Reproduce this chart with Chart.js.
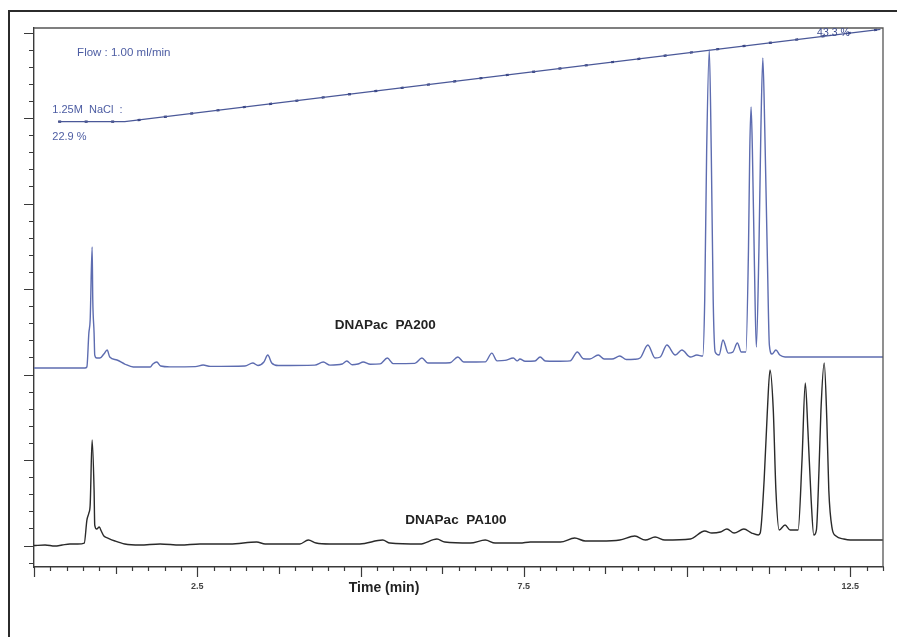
<!DOCTYPE html>
<html><head><meta charset="utf-8">
<script src="https://cdn.jsdelivr.net/npm/chart.js@4/dist/chart.umd.min.js"></script>
<style>
html,body{margin:0;padding:0;background:#fff;overflow:hidden;width:897px;height:637px;}
#frame{position:absolute;left:8px;top:10px;width:1000px;height:1000px;border-top:2px solid #2b2b2b;border-left:2px solid #2b2b2b;box-sizing:border-box;}
canvas{position:absolute;left:0;top:0;}
</style></head><body>
<div id="frame"></div>
<canvas id="c" width="897" height="637"></canvas>
<script>
// ---- data (time in min, signal in arbitrary units) ----
const pa200Time = [0.00,0.78,0.81,0.84,0.86,0.89,0.90,0.92,0.93,0.96,1.01,1.07,1.12,1.16,1.27,1.39,1.52,1.78,1.82,1.88,1.94,2.08,2.47,2.59,2.70,3.23,3.35,3.43,3.52,3.58,3.64,3.74,4.30,4.43,4.53,4.72,4.79,4.87,4.96,5.04,5.15,5.30,5.41,5.50,5.83,5.94,6.03,6.22,6.37,6.49,6.58,6.91,7.01,7.09,7.21,7.34,7.40,7.44,7.52,7.67,7.75,7.83,7.98,8.21,8.32,8.41,8.51,8.64,8.73,8.85,8.97,9.07,9.20,9.28,9.40,9.51,9.59,9.69,9.82,9.92,10.05,10.15,10.24,10.27,10.30,10.34,10.37,10.40,10.43,10.49,10.55,10.63,10.70,10.77,10.83,10.90,10.94,10.96,10.98,11.00,11.03,11.06,11.10,11.13,11.16,11.19,11.23,11.26,11.30,11.36,11.42,11.50,11.73,13.00];
const pa200Signal = [20.76,20.76,20.90,24.85,26.37,34.91,28.71,24.85,22.28,21.93,21.93,22.40,22.87,22.05,21.70,21.23,20.88,20.88,21.23,21.46,21.00,20.90,20.92,21.11,20.95,21.00,21.35,21.05,21.46,22.28,21.35,21.05,21.10,21.46,21.10,21.23,21.58,21.15,21.23,21.46,21.20,21.25,21.93,21.28,21.30,21.93,21.35,21.35,21.38,22.05,21.46,21.48,22.51,21.60,21.65,21.93,21.60,21.81,21.55,21.58,22.05,21.58,21.55,21.60,22.63,21.85,21.81,22.28,21.81,21.81,22.16,21.75,21.78,21.93,23.45,21.93,22.05,23.45,22.28,22.87,22.05,22.28,22.16,28.71,46.26,57.95,46.26,28.71,22.63,22.28,24.04,22.51,22.63,23.68,22.63,22.63,34.56,46.26,51.29,46.26,33.39,23.22,34.56,48.60,57.02,48.60,33.39,23.45,22.40,22.87,22.28,22.05,22.05,22.05];

const pa100Time = [0.00,0.17,0.32,0.43,0.55,0.67,0.77,0.81,0.84,0.86,0.89,0.92,0.93,0.96,1.00,1.03,1.07,1.13,1.24,1.39,1.62,1.93,2.24,2.54,3.00,3.41,3.54,4.07,4.20,4.32,4.53,4.99,5.34,5.45,5.91,6.17,6.29,6.68,6.91,7.06,7.44,7.60,7.83,8.06,8.28,8.44,8.67,8.97,9.20,9.36,9.51,9.66,10.05,10.27,10.38,10.51,10.61,10.72,10.87,10.99,11.09,11.12,11.18,11.23,11.27,11.32,11.36,11.41,11.50,11.58,11.70,11.76,11.81,11.85,11.90,11.94,11.98,12.02,12.05,12.10,12.14,12.17,12.22,12.28,12.40,12.50,13.00];
const pa100Signal = [0.00,0.06,-0.06,0.06,0.18,0.18,0.29,2.98,3.80,4.74,12.34,6.49,2.40,1.93,2.16,1.70,1.11,0.88,0.53,0.18,0.06,0.18,0.06,0.18,0.18,0.41,0.18,0.18,0.64,0.29,0.18,0.18,0.64,0.29,0.18,0.76,0.41,0.29,0.64,0.29,0.29,0.41,0.41,0.41,0.88,0.53,0.53,0.64,1.11,0.64,0.99,0.64,0.76,1.70,1.46,1.58,1.93,1.46,1.93,1.46,1.23,1.46,7.66,15.85,20.53,15.85,6.49,1.81,2.40,1.81,1.81,10.00,19.01,13.51,5.32,1.23,1.81,8.83,15.85,21.35,14.68,6.49,2.05,1.11,0.76,0.64,0.64];

const gradientTime = [0.37, 1.39, 12.96];
const gradientPercent = [22.9, 22.9, 43.3];

const xTickLabels = ['2.5', '7.5', '12.5'];
const xTickLabelValues = [2.5, 7.5, 12.5];

// ---- text notes (content + anchor in data units) ----
const notes = [
  {text:'Flow : 1.00 ml/min', t:0.66, v:57.6, align:'left', color:'#4d5da3', font:'11.5px "Liberation Sans", Arial, sans-serif'},
  {text:'1.25M  NaCl  :', t:0.28, v:50.9, align:'left', color:'#4d5da3', font:'11px "Liberation Sans", Arial, sans-serif'},
  {text:'22.9 %', t:0.28, v:47.8, align:'left', color:'#4d5da3', font:'11px "Liberation Sans", Arial, sans-serif'},
  {text:'43.3 %', t:11.99, v:59.9, align:'left', color:'#3d4c8f', font:'10.5px "Liberation Sans", Arial, sans-serif'},
  {text:'DNAPac  PA200', t:5.38, v:25.8, align:'center', color:'#222', font:'bold 13.5px "Liberation Sans", Arial, sans-serif'},
  {text:'DNAPac  PA100', t:6.46, v:3.0, align:'center', color:'#222', font:'bold 13.5px "Liberation Sans", Arial, sans-serif'}
];

const xy = (ts, vs) => ts.map((t, i) => ({x: t, y: vs[i]}));

const decor = {
  id: 'decor',
  afterDraw(chart) {
    const {ctx, chartArea: a, scales: {x, y}} = chart;
    ctx.save();
    ctx.strokeStyle = '#555';
    ctx.lineWidth = 1.3;
    ctx.beginPath();
    ctx.moveTo(a.left, a.top); ctx.lineTo(a.right, a.top); ctx.lineTo(a.right, a.bottom);
    ctx.stroke();
    ctx.strokeStyle = '#3a3a3a';
    ctx.lineWidth = 1.2;
    ctx.beginPath();
    x.ticks.forEach(tk => {
      const px = Math.round(x.getPixelForValue(tk.value)) + 0.5;
      const k = Math.round(tk.value * 100);
      const len = (k % 250 === 0) ? 10 : ((k % 125 === 0) ? 7 : 4);
      ctx.moveTo(px, a.bottom); ctx.lineTo(px, a.bottom + len);
    });
    y.ticks.forEach(tk => {
      const py = Math.round(y.getPixelForValue(tk.value)) + 0.5;
      const k = Math.round(tk.value);
      const len = (k % 10 === 0) ? 10 : 5;
      ctx.moveTo(a.left, py); ctx.lineTo(a.left - len, py);
    });
    ctx.stroke();
    ctx.fillStyle = '#444';
    ctx.font = 'bold 9px "Liberation Sans", Arial, sans-serif';
    ctx.textAlign = 'center';
    ctx.textBaseline = 'middle';
    xTickLabelValues.forEach((v, i) => {
      ctx.fillText(xTickLabels[i], x.getPixelForValue(v), a.bottom + 20);
    });
    ctx.fillStyle = '#222';
    ctx.font = 'bold 14px "Liberation Sans", Arial, sans-serif';
    ctx.fillText('Time (min)', x.getPixelForValue(5.36), a.bottom + 21);
    notes.forEach(n => {
      ctx.fillStyle = n.color;
      ctx.font = n.font;
      ctx.textAlign = n.align;
      ctx.fillText(n.text, x.getPixelForValue(n.t), y.getPixelForValue(n.v));
    });
    ctx.restore();
  }
};

const xTickValues = [];
for (let i = 0; i <= 52; i++) xTickValues.push(i * 0.25);
const yTickValues = [];
for (let v = -2; v <= 60; v += 2) yTickValues.push(v);

new Chart(document.getElementById('c'), {
  type: 'line',
  data: {
    datasets: [
      {label:'DNAPac PA200', data: xy(pa200Time, pa200Signal), borderColor:'#5d6cb0', borderWidth:1.4, pointRadius:0, cubicInterpolationMode:'monotone', yAxisID:'y'},
      {label:'DNAPac PA100', data: xy(pa100Time, pa100Signal), borderColor:'#2a2a2a', borderWidth:1.4, pointRadius:0, cubicInterpolationMode:'monotone', yAxisID:'y'},
      {label:'NaCl gradient', data: xy(gradientTime, gradientPercent), borderColor:'#4a5898', borderWidth:1.2, pointRadius:0, tension:0, yAxisID:'yGrad'},
      {label:'NaCl gradient marks', data: xy(gradientTime, gradientPercent), borderColor:'#27316e', borderWidth:2.2, borderDash:[3, 23.5], pointRadius:0, tension:0, yAxisID:'yGrad'}
    ]
  },
  options: {
    responsive: false,
    animation: false,
    events: [],
    layout: {padding: {left: 34, top: 28, right: 14, bottom: 70}},
    plugins: {legend: {display: false}, tooltip: {enabled: false}},
    scales: {
      x: {
        type: 'linear', min: 0, max: 13,
        grid: {display: false, drawTicks: false},
        border: {display: true, color: '#3a3a3a', width: 1.4},
        ticks: {display: false},
        afterBuildTicks: s => { s.ticks = xTickValues.map(v => ({value: v})); }
      },
      y: {
        type: 'linear', min: -2.51, max: 60.53,
        grid: {display: false, drawTicks: false},
        border: {display: true, color: '#3a3a3a', width: 1.4},
        ticks: {display: false},
        afterBuildTicks: s => { s.ticks = yTickValues.map(v => ({value: v})); }
      },
      yGrad: {
        type: 'linear', display: false, min: -75.41, max: 43.59
      }
    }
  },
  plugins: [decor]
});
</script>
</body></html>
